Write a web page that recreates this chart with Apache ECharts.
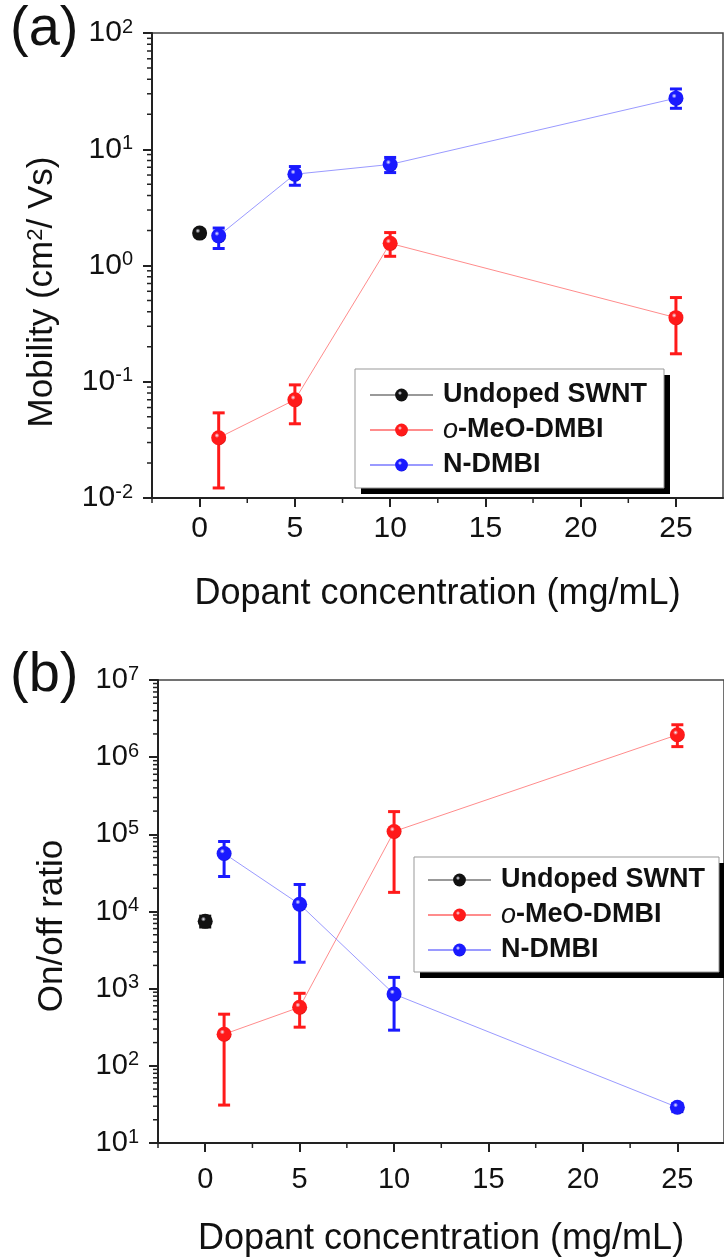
<!DOCTYPE html>
<html>
<head>
<meta charset="utf-8">
<script src="https://cdn.jsdelivr.net/npm/echarts@6/dist/echarts.min.js"></script>
<style>
html, body { margin: 0; padding: 0; background: #fff; }
#main { width: 724px; height: 1258px; }
</style>
</head>
<body>
<div id="main"></div>
<script>
// dopant concentration (mg/mL)
var undopedX = [0];
var dopedX = [1, 5, 10, 25];

// (a) mobility (cm2/Vs): value, lower and upper end of error bar
var mobUndoped = [1.9];
var mobUndopedLow = [1.78];
var mobUndopedHigh = [2.02];
var mobOMeO = [0.033, 0.070, 1.55, 0.356];
var mobOMeOLow = [0.0122, 0.0435, 1.2, 0.174];
var mobOMeOHigh = [0.054, 0.094, 1.92, 0.53];
var mobNDMBI = [1.8, 6.1, 7.4, 27.5];
var mobNDMBILow = [1.4, 4.9, 6.3, 22.5];
var mobNDMBIHigh = [2.1, 7.1, 8.5, 33];

// (b) on/off ratio
var ratioUndoped = [7450];
var ratioUndopedLow = [6300];
var ratioUndopedHigh = [8700];
var ratioOMeO = [257, 575, 109000, 1950000];
var ratioOMeOLow = [31, 317, 17700, 1370000];
var ratioOMeOHigh = [467, 871, 197000, 2630000];
var ratioNDMBI = [56500, 12400, 850, 29];
var ratioNDMBILow = [28400, 2200, 290, 25.5];
var ratioNDMBIHigh = [80700, 22400, 1400, 32.5];

// ticks
var xTicks = [0, 5, 10, 15, 20, 25];
var xMinorTicks = [-2.5, 2.5, 7.5, 12.5, 17.5, 22.5];
var minorSteps = [2, 3, 4, 5, 6, 7, 8, 9];
var mobDecades = [0.01, 0.1, 1, 10];
var ratioDecades = [10, 100, 1e3, 1e4, 1e5, 1e6];

var names = ['Undoped SWNT', 'o-MeO-DMBI', 'N-DMBI'];
var FONT = '"Liberation Sans", Arial, sans-serif';
var X_MIN = -2.5, X_MAX = 27.47;

function pts(xs, ys) {
	return xs.map(function (x, i) { return [x, ys[i]]; });
}
function bars(xs, lo, hi) {
	return xs.map(function (x, i) { return [x, lo[i], hi[i]]; });
}
function minorOf(decades) {
	var out = [];
	decades.forEach(function (d) {
		minorSteps.forEach(function (s) { out.push(s * d); });
	});
	return out;
}

// shaded ball marker
function ball(base, dark) {
	return {
		type: 'radial', x: 0.38, y: 0.35, r: 0.75,
		colorStops: [
			{ offset: 0, color: '#f4f4ff' },
			{ offset: 0.22, color: base },
			{ offset: 0.8, color: base },
			{ offset: 1, color: dark }
		]
	};
}

function errorBars(idx, data, color) {
	return {
		type: 'custom',
		name: 'err',
		xAxisIndex: idx,
		yAxisIndex: idx,
		clip: false,
		z: 3,
		encode: { x: 0, y: [1, 2] },
		data: data,
		renderItem: function (params, api) {
			var x = api.value(0);
			var a = api.coord([x, api.value(1)]);
			var b = api.coord([x, api.value(2)]);
			var w = 6;
			var st = { stroke: color, lineWidth: 3 };
			return {
				type: 'group',
				children: [
					{ type: 'line', shape: { x1: a[0], y1: a[1], x2: b[0], y2: b[1] }, style: st },
					{ type: 'line', shape: { x1: a[0] - w, y1: a[1], x2: a[0] + w, y2: a[1] }, style: st },
					{ type: 'line', shape: { x1: b[0] - w, y1: b[1], x2: b[0] + w, y2: b[1] }, style: st }
				]
			};
		}
	};
}

function lineSeries(idx, name, data, base, dark, lineColor) {
	return {
		type: 'line',
		name: name,
		xAxisIndex: idx,
		yAxisIndex: idx,
		data: data,
		symbol: 'circle',
		symbolSize: 15,
		z: 4,
		itemStyle: { color: ball(base, dark) },
		lineStyle: { color: lineColor, width: 1 }
	};
}

// minor ticks on the left (y) and bottom (x) axes
function minorTicks(idx, yMin, yValues) {
	var yData = yValues.map(function (v) { return [X_MIN, v, 0]; });
	var xData = xMinorTicks.map(function (v) { return [v, yMin, 1]; });
	return {
		type: 'custom',
		name: 'minor',
		xAxisIndex: idx,
		yAxisIndex: idx,
		clip: false,
		silent: true,
		data: yData.concat(xData),
		renderItem: function (params, api) {
			var p = api.coord([api.value(0), api.value(1)]);
			var horiz = api.value(2) === 0;
			return {
				type: 'line',
				shape: horiz
					? { x1: p[0] - 5, y1: p[1], x2: p[0], y2: p[1] }
					: { x1: p[0], y1: p[1], x2: p[0], y2: p[1] + 5 },
				style: { stroke: '#222', lineWidth: 1.5 }
			};
		}
	};
}

function xAxisOf(idx, fontSize, margin) {
	return {
		gridIndex: idx,
		type: 'value',
		min: X_MIN,
		max: X_MAX,
		name: 'Dopant concentration (mg/mL)',
		nameLocation: 'middle',
		nameGap: 78,
		nameTextStyle: { fontFamily: FONT, fontSize: 36, color: '#111' },
		axisLine: { onZero: false, lineStyle: { color: '#222', width: 2 } },
		axisTick: { customValues: xTicks, length: 9, lineStyle: { color: '#222', width: 2 } },
		axisLabel: { customValues: xTicks, fontFamily: FONT, fontSize: fontSize, color: '#111', margin: margin },
		splitLine: { show: false }
	};
}

function yAxisOf(idx, min, max, fontSize, margin) {
	return {
		gridIndex: idx,
		type: 'log',
		logBase: 10,
		min: min,
		max: max,
		axisLine: { show: true, onZero: false, lineStyle: { color: '#222', width: 2 } },
		axisTick: { show: true, length: 9, lineStyle: { color: '#222', width: 2 } },
		axisLabel: {
			margin: margin,
			fontFamily: FONT,
			fontSize: fontSize,
			color: '#111',
			formatter: function (v) {
				return '{b|10}{s|' + Math.round(Math.log10(v)) + '}';
			},
			rich: {
				b: { fontFamily: FONT, fontSize: fontSize, color: '#111', lineHeight: 32 },
				s: { fontFamily: FONT, fontSize: 20, color: '#111', lineHeight: 20, verticalAlign: 'top' }
			}
		},
		splitLine: { show: false }
	};
}

function legendOf(left, top) {
	return {
		data: names,
		orient: 'vertical',
		left: left,
		top: top,
		z: 8,
		selectedMode: false,
		itemWidth: 63,
		itemHeight: 16,
		itemGap: 5,
		padding: 0,
		formatter: function (name) {
			return name === 'o-MeO-DMBI' ? '{i|o}-MeO-DMBI' : name;
		},
		textStyle: {
			fontFamily: FONT,
			fontSize: 27,
			fontWeight: 'bold',
			color: '#111',
			lineHeight: 30,
			padding: [0, 0, 0, 5],
			rich: {
				i: { fontFamily: FONT, fontSize: 27, fontStyle: 'italic', fontWeight: 'normal', color: '#111', lineHeight: 30 }
			}
		}
	};
}

// legend frame with a hard drop shadow
function legendBox(x, y, w, h) {
	return [
		{ type: 'rect', z: 6, shape: { x: x + 6, y: y + 6, width: w, height: h }, style: { fill: '#000' } },
		{ type: 'rect', z: 7, shape: { x: x, y: y, width: w, height: h }, style: { fill: '#fff', stroke: '#999', lineWidth: 1 } }
	];
}

var chart = echarts.init(document.getElementById('main'));
chart.setOption({
	animation: false,
	backgroundColor: '#fff',
	grid: [
		{ left: 152, top: 33, width: 571, height: 465, show: true, borderColor: '#444', borderWidth: 1.5 },
		{ left: 158, top: 680, width: 571, height: 464, show: true, borderColor: '#444', borderWidth: 1.5 }
	],
	xAxis: [xAxisOf(0, 30, 16), xAxisOf(1, 29, 22)],
	yAxis: [yAxisOf(0, 0.01, 100, 30, 19), yAxisOf(1, 10, 1e7, 29, 19)],
	legend: [legendOf(369, 380), legendOf(427, 865)],
	graphic: legendBox(355, 369, 309, 119).concat(legendBox(414, 857, 305, 115)).concat([
		{ type: 'text', left: 10, top: 2, style: { text: '(a)', fontFamily: FONT, fontSize: 56, fill: '#111' } },
		{ type: 'text', left: 10, top: 648, style: { text: '(b)', fontFamily: FONT, fontSize: 56, fill: '#111' } },
		{
			type: 'text', x: 42, y: 292, rotation: Math.PI / 2,
			style: {
				text: 'Mobility (cm{s|2}/ Vs)', fontFamily: FONT, fontSize: 35, fill: '#111',
				align: 'center', verticalAlign: 'middle',
				rich: { s: { fontFamily: FONT, fontSize: 22, fill: '#111', verticalAlign: 'top', lineHeight: 22 } }
			}
		},
		{
			type: 'text', x: 52, y: 926, rotation: Math.PI / 2,
			style: { text: 'On/off ratio', fontFamily: FONT, fontSize: 35, fill: '#111', align: 'center', verticalAlign: 'middle' }
		}
	]),
	series: [
		minorTicks(0, 0.01, minorOf(mobDecades)),
		minorTicks(1, 10, minorOf(ratioDecades)),

		errorBars(0, bars(undopedX, mobUndopedLow, mobUndopedHigh), '#111'),
		errorBars(0, bars(dopedX, mobOMeOLow, mobOMeOHigh), '#ff1a1a'),
		errorBars(0, bars(dopedX, mobNDMBILow, mobNDMBIHigh), '#1a1aff'),
		lineSeries(0, names[0], pts(undopedX, mobUndoped), '#111', '#000', '#999'),
		lineSeries(0, names[1], pts(dopedX, mobOMeO), '#ff1a1a', '#b00000', '#ff8c8c'),
		lineSeries(0, names[2], pts(dopedX, mobNDMBI), '#1a1aff', '#0000a8', '#9a9aff'),

		errorBars(1, bars(undopedX, ratioUndopedLow, ratioUndopedHigh), '#111'),
		errorBars(1, bars(dopedX, ratioOMeOLow, ratioOMeOHigh), '#ff1a1a'),
		errorBars(1, bars(dopedX, ratioNDMBILow, ratioNDMBIHigh), '#1a1aff'),
		lineSeries(1, names[0], pts(undopedX, ratioUndoped), '#111', '#000', '#999'),
		lineSeries(1, names[1], pts(dopedX, ratioOMeO), '#ff1a1a', '#b00000', '#ff8c8c'),
		lineSeries(1, names[2], pts(dopedX, ratioNDMBI), '#1a1aff', '#0000a8', '#9a9aff')
	]
});
</script>
</body>
</html>
